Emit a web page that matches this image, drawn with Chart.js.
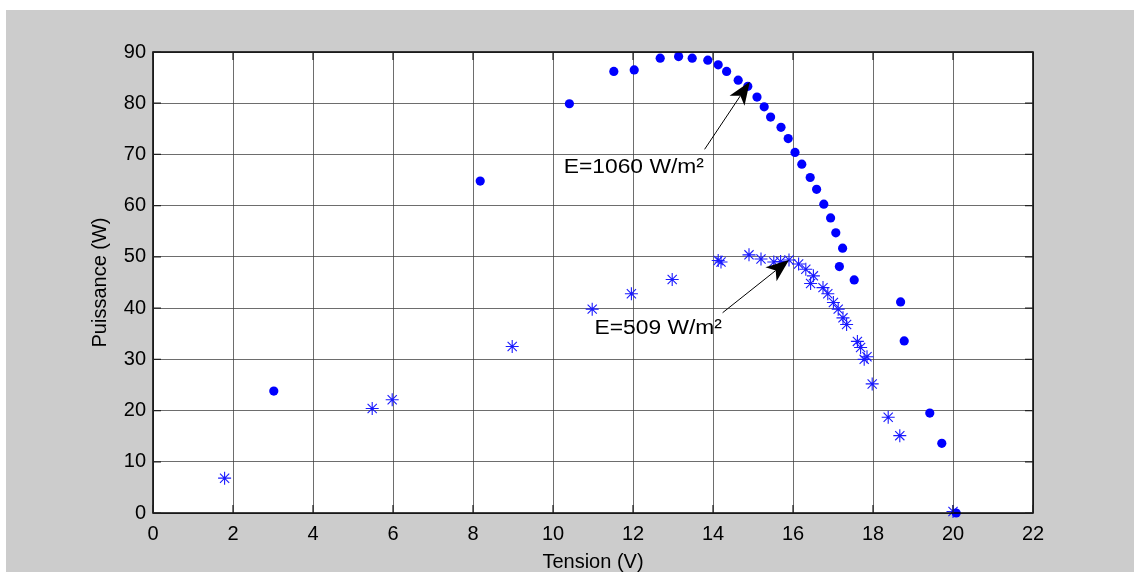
<!DOCTYPE html>
<html>
<head>
<meta charset="utf-8">
<script src="https://cdn.jsdelivr.net/npm/chart.js@4/dist/chart.umd.min.js"></script>
<style>
  html, body { margin:0; padding:0; background:#fff; }
  #frame { position:absolute; left:6px; top:10px; width:1128px; height:562px; background:#cccccc; }
  #pv { display:block; }
</style>
</head>
<body>
<div id="frame"><canvas id="pv" width="1128" height="562"></canvas></div>
<script>
// P(V) curves of the panel at two irradiance levels
const xTicks = [0,2,4,6,8,10,12,14,16,18,20,22];
const yTicks = [0,10,20,30,40,50,60,70,80,90];

// E = 1060 W/m²
const v1060 = [3.02,8.18,10.41,11.52,12.03,12.68,13.14,13.48,13.87,14.13,14.34,14.63,14.87,15.10,15.28,15.44,15.70,15.88,16.05,16.22,16.43,16.59,16.77,16.94,17.07,17.16,17.24,17.53,18.69,18.78,19.42,19.72,20.08];
const p1060 = [23.8,64.8,79.9,86.2,86.5,88.8,89.1,88.8,88.4,87.5,86.2,84.5,83.3,81.2,79.3,77.3,75.3,73.1,70.4,68.1,65.5,63.2,60.3,57.6,54.7,48.1,51.7,45.5,41.2,33.6,19.5,13.6,0];

// E = 509 W/m²
const v509 = [1.79,5.48,5.98,8.98,10.98,11.96,12.98,14.13,14.20,14.90,15.20,15.52,15.69,15.90,16.14,16.32,16.44,16.51,16.75,16.87,17.01,17.13,17.25,17.34,17.61,17.69,17.78,17.85,17.98,18.38,18.67,20.00];
const p509 = [6.8,20.4,22.1,32.5,39.8,42.8,45.6,49.3,49.0,50.4,49.6,49.0,49.1,49.4,48.6,47.6,44.8,46.3,44.0,42.8,41.1,39.8,38.1,36.8,33.5,32.3,30.0,30.5,25.2,18.7,15.1,0.3];

// annotations: label, text anchor and arrow tail -> head, in data units
const notes = [
  { text:'E=1060 W/m²', at:[10.27,66.4], from:[13.79,71.0], to:[14.92,84.2] },
  { text:'E=509 W/m²',  at:[11.04,34.9], from:[14.24,39.1], to:[15.90,49.4] }
];

const toXY = (xs, ys) => xs.map((x,i)=>({x:x, y:ys[i]}));
const FONT = 'Liberation Sans, Arial, sans-serif';

// white axes box, black frame, inward ticks, annotations
const axesBox = {
  id:'axesBox',
  beforeDraw(chart){
    const {ctx, chartArea:a} = chart;
    ctx.save();
    ctx.fillStyle = '#fff';
    ctx.fillRect(a.left, a.top, a.right-a.left, a.bottom-a.top);
    ctx.restore();
  },
  afterDatasetsDraw(chart){
    const {ctx, chartArea:a, scales:{x, y}} = chart;
    ctx.save();
    ctx.strokeStyle = '#000';
    ctx.lineWidth = 1.5;
    ctx.strokeRect(a.left, a.top, a.right-a.left, a.bottom-a.top);
    ctx.lineWidth = 1.2;
    ctx.strokeStyle = '#222';
    ctx.beginPath();
    xTicks.forEach(t=>{
      const px = x.getPixelForValue(t);
      ctx.moveTo(px, a.bottom); ctx.lineTo(px, a.bottom-8);
      ctx.moveTo(px, a.top); ctx.lineTo(px, a.top+8);
    });
    yTicks.forEach(t=>{
      const py = y.getPixelForValue(t);
      ctx.moveTo(a.left, py); ctx.lineTo(a.left+8, py);
      ctx.moveTo(a.right, py); ctx.lineTo(a.right-8, py);
    });
    ctx.stroke();

    notes.forEach(n=>{
      const tx = x.getPixelForValue(n.at[0]), ty = y.getPixelForValue(n.at[1]);
      ctx.save();
      ctx.translate(tx, ty);
      ctx.scale(1.14, 1);
      ctx.fillStyle = '#000';
      ctx.font = '20px ' + FONT;
      ctx.textBaseline = 'alphabetic';
      ctx.fillText(n.text, 0, 0);
      ctx.restore();

      const x0 = x.getPixelForValue(n.from[0]), y0 = y.getPixelForValue(n.from[1]);
      const x1 = x.getPixelForValue(n.to[0]),   y1 = y.getPixelForValue(n.to[1]);
      const ang = Math.atan2(y1-y0, x1-x0);
      const len = 23, half = 9;
      const bx = x1 - len*Math.cos(ang), by = y1 - len*Math.sin(ang);
      ctx.strokeStyle = '#000';
      ctx.lineWidth = 1;
      ctx.beginPath();
      ctx.moveTo(x0, y0); ctx.lineTo(bx + 6*Math.cos(ang), by + 6*Math.sin(ang));
      ctx.stroke();
      ctx.fillStyle = '#000';
      ctx.beginPath();
      ctx.moveTo(x1, y1);
      ctx.lineTo(bx - half*Math.sin(ang), by + half*Math.cos(ang));
      ctx.lineTo(bx + 6*Math.cos(ang), by + 6*Math.sin(ang));
      ctx.lineTo(bx + half*Math.sin(ang), by - half*Math.cos(ang));
      ctx.closePath();
      ctx.fill();
    });
    ctx.restore();
  }
};

new Chart(document.getElementById('pv'), {
  type:'scatter',
  data:{
    datasets:[
      {
        label:'E=1060 W/m²',
        data: toXY(v1060, p1060),
        pointStyle:'circle',
        pointRadius:4.6,
        pointBackgroundColor:'#0000ff',
        pointBorderWidth:0,
        borderColor:'#0000ff',
        clip:false
      },
      {
        label:'E=509 W/m²',
        data: toXY(v509, p509),
        pointStyle:'star',
        pointRadius:6.5,
        pointBorderColor:'#1a1aff',
        pointBorderWidth:1.1,
        backgroundColor:'#0000ff',
        clip:false
      }
    ]
  },
  options:{
    responsive:false,
    animation:false,
    events:[],
    layout:{ padding:{ top:42, right:101, left:0, bottom:0 } },
    plugins:{ legend:{display:false}, tooltip:{enabled:false} },
    scales:{
      x:{
        type:'linear', min:0, max:22,
        afterFit(s){ s.height = 59; },
        afterBuildTicks(s){ s.ticks = xTicks.map(v=>({value:v})); },
        grid:{ color:'rgba(60,60,60,0.75)', lineWidth:1, drawTicks:false },
        border:{ display:false },
        ticks:{ padding:9, color:'#000', font:{family:FONT, size:20}, maxRotation:0 },
        title:{ display:true, text:'Tension (V)', color:'#000', font:{family:FONT, size:20, lineHeight:1}, padding:{top:0, bottom:0} }
      },
      y:{
        type:'linear', min:0, max:90,
        afterFit(s){ s.width = 147; },
        afterBuildTicks(s){ s.ticks = yTicks.map(v=>({value:v})); },
        grid:{ color:'rgba(60,60,60,0.75)', lineWidth:1, drawTicks:false },
        border:{ display:false },
        ticks:{ padding:7, color:'#000', font:{family:FONT, size:20} },
        title:{ display:true, text:'Puissance (W)', color:'#000', font:{family:FONT, size:20, lineHeight:1}, padding:{top:84, bottom:0} }
      }
    }
  },
  plugins:[axesBox]
});
</script>
</body>
</html>
